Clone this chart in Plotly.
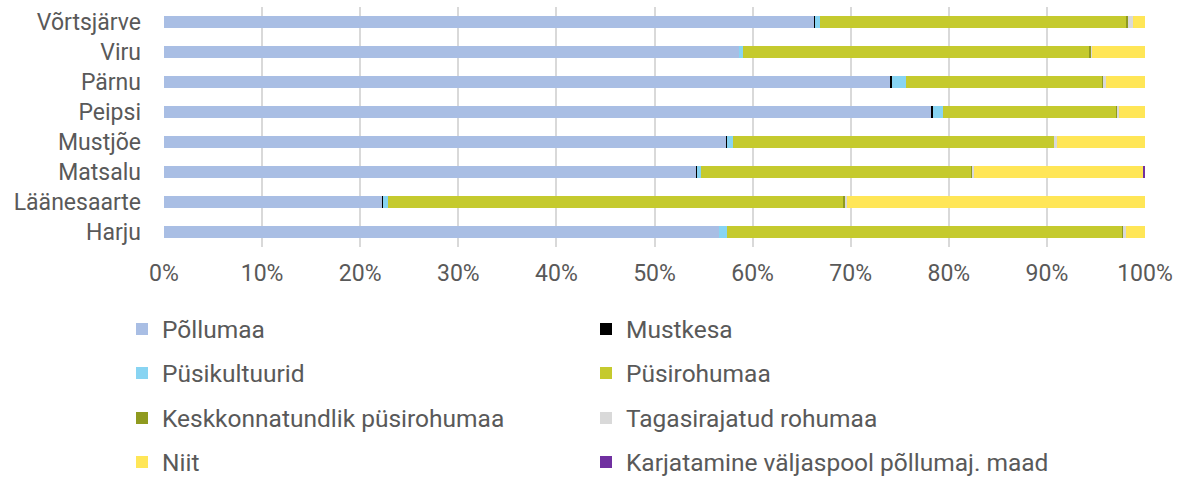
import plotly.graph_objects as go

regions = ["Võrtsjärve", "Viru", "Pärnu", "Peipsi", "Mustjõe", "Matsalu", "Läänesaarte", "Harju"]

pollumaa = [66.3, 58.6, 74.1, 78.2, 57.3, 54.3, 22.3, 56.6]
mustkesa = [0.1, 0.0, 0.15, 0.2, 0.05, 0.05, 0.05, 0.0]
pusikultuurid = [0.5, 0.4, 1.4, 1.0, 0.7, 0.4, 0.5, 0.8]
pusirohumaa = [31.2, 35.3, 20.0, 17.7, 32.7, 27.6, 46.4, 40.3]
keskkonna = [0.2, 0.2, 0.05, 0.1, 0.05, 0.05, 0.2, 0.05]
tagasirajatud = [0.45, 0.1, 0.3, 0.2, 0.2, 0.2, 0.2, 0.3]
niit = [1.25, 5.4, 4.0, 2.6, 9.0, 17.2, 30.35, 1.95]
karjatamine = [0.0, 0.0, 0.0, 0.0, 0.0, 0.2, 0.0, 0.0]

tick_vals = [0, 10, 20, 30, 40, 50, 60, 70, 80, 90, 100]
tick_text = ["0%", "10%", "20%", "30%", "40%", "50%", "60%", "70%", "80%", "90%", "100%"]

series = [
    ("Põllumaa", pollumaa, "#A9BEE4", "legend"),
    ("Mustkesa", mustkesa, "#000000", "legend"),
    ("Püsikultuurid", pusikultuurid, "#88D4F2", "legend2"),
    ("Püsirohumaa", pusirohumaa, "#C5CA2E", "legend2"),
    ("Keskkonnatundlik püsirohumaa", keskkonna, "#8F9A1F", "legend3"),
    ("Tagasirajatud rohumaa", tagasirajatud, "#D9D9D9", "legend3"),
    ("Niit", niit, "#FFE657", "legend4"),
    ("Karjatamine väljaspool põllumaj. maad", karjatamine, "#7030A0", "legend4"),
]

fig = go.Figure()
for name, vals, color, lg in series:
    fig.add_trace(go.Bar(
        y=regions, x=vals, name=name, orientation="h",
        marker=dict(color=color, line=dict(width=0)),
        width=0.4, legend=lg,
    ))

W, H = 1181, 477
font_color = "#595959"
FONT = "Roboto"
row_y = [329, 373, 418, 462]

def leg(i):
    return dict(
        orientation="h", xref="container", yref="container",
        x=122 / W, xanchor="left", y=1 - row_y[i] / H, yanchor="middle",
        entrywidth=419, entrywidthmode="pixels", traceorder="normal",
        font=dict(family=FONT, size=24.5, color=font_color),
        bgcolor="rgba(0,0,0,0)", itemclick=False,
    )

fig.update_layout(
    width=W, height=H,
    barmode="stack",
    margin=dict(l=164, r=36, t=7, b=230),
    paper_bgcolor="white", plot_bgcolor="white",
    font=dict(family=FONT, size=23, color=font_color),
    legend=leg(0), legend2=leg(1), legend3=leg(2), legend4=leg(3),
    xaxis=dict(
        range=[0, 100], tickvals=tick_vals, ticktext=tick_text,
        showgrid=True, gridcolor="#D9D9D9", gridwidth=2,
        zeroline=False, showline=False, ticks="",
        ticklabelstandoff=10,
        tickfont=dict(family=FONT, size=23, color=font_color),
    ),
    yaxis=dict(
        autorange="reversed", showgrid=False, zeroline=False, showline=False,
        ticks="", ticklabelstandoff=22,
        tickfont=dict(family=FONT, size=23, color=font_color),
    ),
)

fig.write_html("out.html", config={"displayModeBar": False},
               post_script="document.body.style.margin='0';")
